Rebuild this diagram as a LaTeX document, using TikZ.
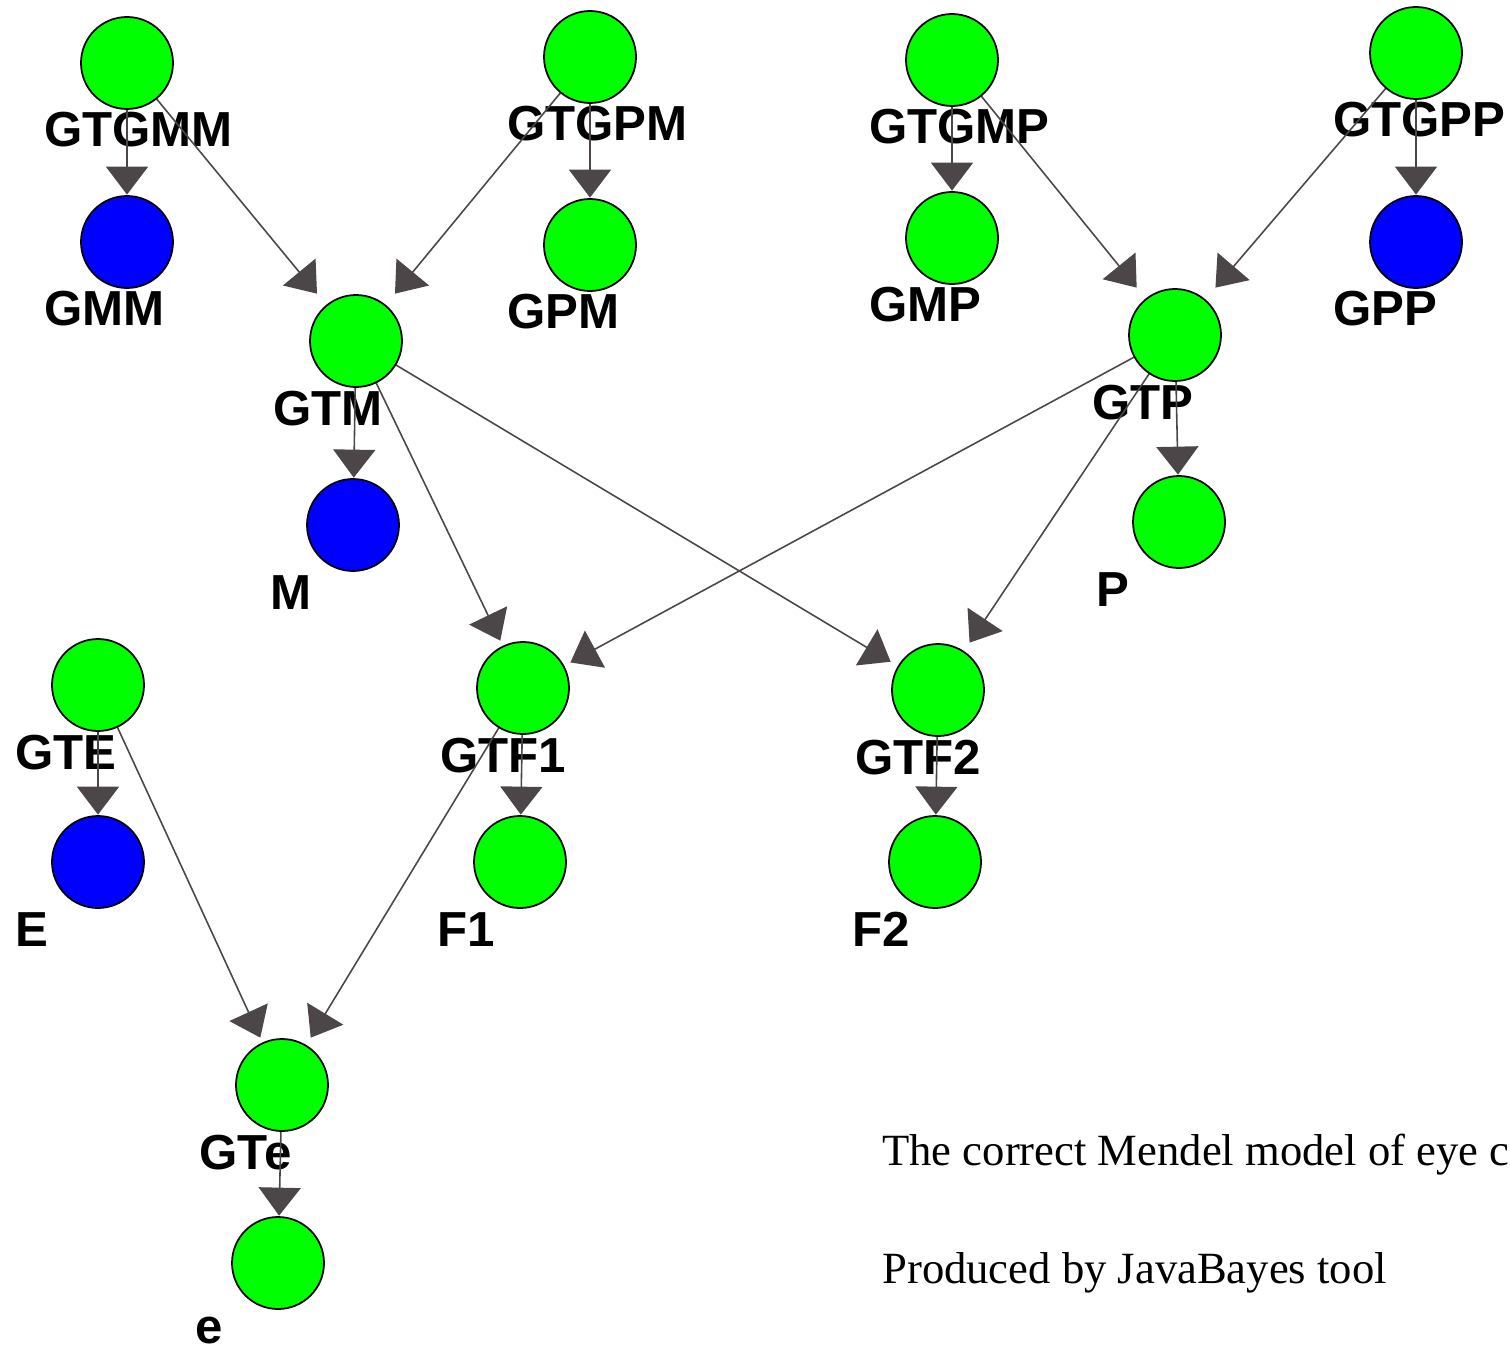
\documentclass[tikz,border=0pt]{standalone}
\usepackage{fontspec}
\setmainfont{Liberation Serif}
\setsansfont{Liberation Sans}
\usetikzlibrary{arrows.meta}
\definecolor{linkgray}{RGB}{76,70,73}
\pgfdeclarelayer{back}
\pgfsetlayers{back,main}
\tikzset{
  var/.style={rectangle, minimum size=1.88cm, inner sep=0pt,
    path picture={\draw[line width=1pt, fill=#1] (path picture bounding box.center) circle (0.92cm);}},
  vname/.style={anchor=base west, inner sep=0pt,
    font=\sffamily\bfseries\fontsize{28}{30}\selectfont},
  link/.style={draw=linkgray, line width=0.9pt, -{Triangle[length=0.56cm,width=0.84cm]}},
  note/.style={anchor=base west, inner sep=0pt, font=\fontsize{25.4}{28}\selectfont}
}
\begin{document}
\begin{tikzpicture}
\useasboundingbox (0,0) rectangle (30.2,-26.94);
% variables
\node[var=green] (gtgmm) at (2.54,-1.26) {};
\node[var=blue]  (gmm)   at (2.54,-4.84) {};
\node[var=green] (gtgpm) at (11.80,-1.14) {};
\node[var=green] (gpm)   at (11.80,-4.90) {};
\node[var=green] (gtm)   at (7.12,-6.82) {};
\node[var=blue]  (m)     at (7.06,-10.50) {};
\node[var=green] (gtgmp) at (19.04,-1.20) {};
\node[var=green] (gmp)   at (19.04,-4.76) {};
\node[var=green] (gtgpp) at (28.32,-1.06) {};
\node[var=blue]  (gpp)   at (28.32,-4.84) {};
\node[var=green] (gtp)   at (23.50,-6.70) {};
\node[var=green] (p)     at (23.58,-10.44) {};
\node[var=green] (gte)   at (1.96,-13.70) {};
\node[var=blue]  (e)     at (1.96,-17.24) {};
\node[var=green] (gtf1)  at (10.46,-13.76) {};
\node[var=green] (f1)    at (10.40,-17.24) {};
\node[var=green] (gtf2)  at (18.76,-13.80) {};
\node[var=green] (f2)    at (18.70,-17.24) {};
\node[var=green] (gtsmalle) at (5.64,-21.70) {};
\node[var=green] (smalle)   at (5.56,-25.26) {};
\begin{pgfonlayer}{back}
% names under the variables
\node[vname] (gtgmm-n) at ([shift={(-1.66,-1.68)}]gtgmm.center) {GTGMM};
\node[vname] (gmm-n)   at ([shift={(-1.66,-1.68)}]gmm.center) {GMM};
\node[vname] (gtgpm-n) at ([shift={(-1.66,-1.68)}]gtgpm.center) {GTGPM};
\node[vname] (gpm-n)   at ([shift={(-1.66,-1.68)}]gpm.center) {GPM};
\node[vname] (gtm-n)   at ([shift={(-1.66,-1.68)}]gtm.center) {GTM};
\node[vname] (m-n)     at ([shift={(-1.66,-1.68)}]m.center) {M};
\node[vname] (gtgmp-n) at ([shift={(-1.66,-1.68)}]gtgmp.center) {GTGMP};
\node[vname] (gmp-n)   at ([shift={(-1.66,-1.68)}]gmp.center) {GMP};
\node[vname] (gtgpp-n) at ([shift={(-1.66,-1.68)}]gtgpp.center) {GTGPP};
\node[vname] (gpp-n)   at ([shift={(-1.66,-1.68)}]gpp.center) {GPP};
\node[vname] (gtp-n)   at ([shift={(-1.66,-1.68)}]gtp.center) {GTP};
\node[vname] (p-n)     at ([shift={(-1.66,-1.68)}]p.center) {P};
\node[vname] (gte-n)   at ([shift={(-1.66,-1.68)}]gte.center) {GTE};
\node[vname] (e-n)     at ([shift={(-1.66,-1.68)}]e.center) {E};
\node[vname] (gtf1-n)  at ([shift={(-1.66,-1.68)}]gtf1.center) {GTF1};
\node[vname] (f1-n)    at ([shift={(-1.66,-1.68)}]f1.center) {F1};
\node[vname] (gtf2-n)  at ([shift={(-1.66,-1.68)}]gtf2.center) {GTF2};
\node[vname] (f2-n)    at ([shift={(-1.66,-1.68)}]f2.center) {F2};
\node[vname] (gtsmalle-n) at ([shift={(-1.66,-1.68)}]gtsmalle.center) {GTe};
\node[vname] (smalle-n)   at ([shift={(-1.66,-1.60)}]smalle.center) {e};
% links
\draw[link] (gtgmm.center) -- (gmm);
\draw[link] (gtgmm.center) -- (gtm);
\draw[link] (gtgpm.center) -- (gtm);
\draw[link] (gtgpm.center) -- (gpm);
\draw[link] (gtgmp.center) -- (gmp);
\draw[link] (gtgmp.center) -- (gtp);
\draw[link] (gtgpp.center) -- (gtp);
\draw[link] (gtgpp.center) -- (gpp);
\draw[link] (gtm.center) -- (m);
\draw[link] (gtm.center) -- (gtf1);
\draw[link] (gtm.center) -- (gtf2);
\draw[link] (gtp.center) -- (p);
\draw[link] (gtp.center) -- (gtf1);
\draw[link] (gtp.center) -- (gtf2);
\draw[link] (gte.center) -- (e);
\draw[link] (gte.center) -- (gtsmalle);
\draw[link] (gtf1.center) -- (f1);
\draw[link] (gtf1.center) -- (gtsmalle);
\draw[link] (gtf2.center) -- (f2);
\draw[link] (gtsmalle.center) -- (smalle);
\end{pgfonlayer}
% caption
\node[note] (title)  at (17.64,-23.30) {The correct Mendel model of eye c};
\node[note] (credit) at (17.64,-25.66) {Produced by JavaBayes tool};
\end{tikzpicture}
\end{document}
